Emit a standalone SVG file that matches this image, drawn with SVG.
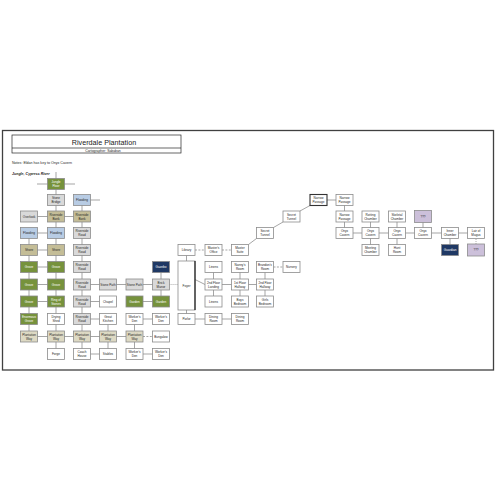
<svg xmlns="http://www.w3.org/2000/svg" width="500" height="500" viewBox="0 0 500 500">
  <defs>
    <style>
      .frame { fill: #ffffff; stroke: #404040; stroke-width: 1.3; }
      .hdr { fill: none; stroke: #262626; stroke-width: 0.7; }
      .title { font-family: "Liberation Sans", Arial, sans-serif; font-size: 7.2px; fill: #1a1a1a; text-anchor: middle; }
      .sub { font-family: "Liberation Sans", Arial, sans-serif; font-size: 3.4px; fill: #262626; text-anchor: middle; }
      .note { font-family: "Liberation Sans", Arial, sans-serif; font-size: 3.6px; fill: #262626; }
      .area { font-family: "Liberation Sans", Arial, sans-serif; font-size: 3.6px; font-weight: bold; font-style: italic; fill: #1a1a1a; }
      .node rect { stroke: #8c8c8c; stroke-width: 0.8; }
      .node text { font-family: "Liberation Sans", Arial, sans-serif; font-size: 3.1px; fill: #262626; text-anchor: middle; }
      .node.g text, .node.d text { fill: #ffffff; }
      .g rect { fill: #76923c; }
      .k rect { fill: #c4bd97; }
      .b rect { fill: #b8cce4; }
      .s rect { fill: #d9d9d9; }
      .p rect { fill: #ddd9c3; }
      .w rect { fill: #ffffff; }
      .d rect { fill: #1f3864; }
      .v rect { fill: #ccc0da; }
      .node.bold rect { stroke: #333333; stroke-width: 1.1; }
      .edges line, .edges polyline { stroke: #7f7f7f; stroke-width: 0.7; fill: none; }
      .edges .dash { stroke-dasharray: 2 1.4; }
      .edges .dot { stroke-dasharray: 0.9 1.1; }
    </style>
  </defs>

  <rect width="500" height="500" fill="#ffffff"/>
  <rect class="frame" x="2.5" y="130.5" width="491" height="239.5"/>

  <!-- header block -->
  <g id="header">
    <rect class="hdr" x="12" y="135" width="169" height="18"/>
    <line class="hdr" x1="12" y1="148" x2="181" y2="148"/>
    <text class="title" x="104" y="144.5">Riverdale Plantation</text>
    <text class="sub" x="103" y="151.8">Cartographer: Sababan</text>
    <text class="note" x="12" y="163.5">Notes: Eldan has key to Onyx Cavern</text>
    <text class="area" x="12" y="175">Jungle, Cypress River</text>
  </g>

  <!-- connectors -->
  <g class="edges">
    <!-- entry marker -->
    <line x1="37" y1="184" x2="75" y2="184"/>
    <line x1="56" y1="172" x2="56" y2="184"/>
    <!-- vertical runs -->
    <line x1="56" y1="184" x2="56" y2="354"/>
    <line x1="29" y1="233" x2="29" y2="336.5"/>
    <line x1="82" y1="200" x2="82" y2="354"/>
    <line x1="108" y1="319" x2="108" y2="354"/>
    <line x1="134.5" y1="319" x2="134.5" y2="354"/>
    <line x1="161" y1="267" x2="161" y2="301.5"/>
    <line x1="186.5" y1="250" x2="186.5" y2="319"/>
    <line x1="213.5" y1="267" x2="213.5" y2="301.5"/>
    <line x1="240" y1="267" x2="240" y2="301.5"/>
    <line x1="265" y1="267" x2="265" y2="301.5"/>
    <line x1="344.5" y1="200" x2="344.5" y2="233"/>
    <line x1="370.5" y1="216.5" x2="370.5" y2="250"/>
    <line x1="397" y1="216.5" x2="397" y2="250"/>
    <line x1="423" y1="216.5" x2="423" y2="233"/>
    <line x1="450" y1="233" x2="450" y2="250"/>
    <line class="dot" x1="476" y1="233" x2="476" y2="250"/>
    <!-- horizontal runs -->
    <line x1="82" y1="200" x2="100" y2="200"/>
    <line x1="29" y1="216.5" x2="82" y2="216.5"/>
    <line x1="29" y1="233" x2="56" y2="233"/>
    <line x1="29" y1="250" x2="56" y2="250"/>
    <line x1="29" y1="267" x2="56" y2="267"/>
    <line x1="29" y1="284.5" x2="56" y2="284.5"/>
    <line x1="29" y1="301.5" x2="56" y2="301.5"/>
    <line x1="29" y1="336.5" x2="134.5" y2="336.5"/>
    <line class="dash" x1="143" y1="336.5" x2="152.5" y2="336.5"/>
    <line x1="82" y1="284.5" x2="161" y2="284.5"/>
    <line class="dot" x1="169.5" y1="284.5" x2="178" y2="284.5"/>
    <line x1="82" y1="301.5" x2="108" y2="301.5"/>
    <line x1="134.5" y1="301.5" x2="161" y2="301.5"/>
    <line x1="82" y1="319" x2="108" y2="319"/>
    <line x1="134.5" y1="319" x2="161" y2="319"/>
    <line x1="82" y1="354" x2="108" y2="354"/>
    <line x1="134.5" y1="354" x2="161" y2="354"/>
    <line x1="186.5" y1="319" x2="240" y2="319"/>
    <line class="dash" x1="195" y1="250" x2="205" y2="250"/>
    <line class="dash" x1="222" y1="250" x2="231.5" y2="250"/>
    <polyline points="195,279.5 205,284.5"/>
    <line x1="213.5" y1="284.5" x2="265" y2="284.5"/>
    <line class="dash" x1="273.5" y1="267" x2="283" y2="267"/>
    <!-- secret passage climb -->
    <line x1="248.5" y1="244.5" x2="256.5" y2="238.5"/>
    <line x1="273.5" y1="227.5" x2="283" y2="222"/>
    <line x1="300" y1="211" x2="310" y2="205.5"/>
    <line x1="318.5" y1="200" x2="344.5" y2="200"/>
    <line x1="344.5" y1="233" x2="476" y2="233"/>
  </g>

  <!-- left grounds -->
  <g id="n-overlook" class="node s" transform="translate(29,216.5)"><rect x="-8.5" y="-5.5" width="17" height="11"/><text y="1.1">Overlook</text></g>
  <g id="n-flooding-1" class="node b" transform="translate(29,233)"><rect x="-8.5" y="-5.5" width="17" height="11"/><text y="1.1">Flooding</text></g>
  <g id="n-shore-1" class="node k" transform="translate(29,250)"><rect x="-8.5" y="-5.5" width="17" height="11"/><text y="1.1">Shore</text></g>
  <g id="n-grove-1" class="node g" transform="translate(29,267)"><rect x="-8.5" y="-5.5" width="17" height="11"/><text y="1.1">Grove</text></g>
  <g id="n-grove-2" class="node g" transform="translate(29,284.5)"><rect x="-8.5" y="-5.5" width="17" height="11"/><text y="1.1">Grove</text></g>
  <g id="n-grove-3" class="node g" transform="translate(29,301.5)"><rect x="-8.5" y="-5.5" width="17" height="11"/><text y="1.1">Grove</text></g>
  <g id="n-enormous-grove" class="node g" transform="translate(29,319)"><rect x="-8.5" y="-5.5" width="17" height="11"/><text y="-0.6"><tspan x="0">Enormous</tspan><tspan x="0" dy="3.6">Grove</tspan></text></g>
  <g id="n-plantation-way-1" class="node p" transform="translate(29,336.5)"><rect x="-8.5" y="-5.5" width="17" height="11"/><text y="-0.6"><tspan x="0">Plantation</tspan><tspan x="0" dy="3.6">Way</tspan></text></g>

  <g id="n-jungle-floor" class="node g" transform="translate(56,184)"><rect x="-8.5" y="-5.5" width="17" height="11"/><text y="-0.6"><tspan x="0">Jungle</tspan><tspan x="0" dy="3.6">Floor</tspan></text></g>
  <g id="n-stone-bridge" class="node s" transform="translate(56,200)"><rect x="-8.5" y="-5.5" width="17" height="11"/><text y="-0.6"><tspan x="0">Stone</tspan><tspan x="0" dy="3.6">Bridge</tspan></text></g>
  <g id="n-riverside-bank-1" class="node k" transform="translate(56,216.5)"><rect x="-8.5" y="-5.5" width="17" height="11"/><text y="-0.6"><tspan x="0">Riverside</tspan><tspan x="0" dy="3.6">Bank</tspan></text></g>
  <g id="n-flooding-2" class="node b" transform="translate(56,233)"><rect x="-8.5" y="-5.5" width="17" height="11"/><text y="1.1">Flooding</text></g>
  <g id="n-shore-2" class="node k" transform="translate(56,250)"><rect x="-8.5" y="-5.5" width="17" height="11"/><text y="1.1">Shore</text></g>
  <g id="n-grove-4" class="node g" transform="translate(56,267)"><rect x="-8.5" y="-5.5" width="17" height="11"/><text y="1.1">Grove</text></g>
  <g id="n-grove-5" class="node g" transform="translate(56,284.5)"><rect x="-8.5" y="-5.5" width="17" height="11"/><text y="1.1">Grove</text></g>
  <g id="n-ring-of-stones" class="node g" transform="translate(56,301.5)"><rect x="-8.5" y="-5.5" width="17" height="11"/><text y="-0.6"><tspan x="0">Ring of</tspan><tspan x="0" dy="3.6">Stones</tspan></text></g>
  <g id="n-drying-shed" class="node w" transform="translate(56,319)"><rect x="-8.5" y="-5.5" width="17" height="11"/><text y="-0.6"><tspan x="0">Drying</tspan><tspan x="0" dy="3.6">Shed</tspan></text></g>
  <g id="n-plantation-way-2" class="node p" transform="translate(56,336.5)"><rect x="-8.5" y="-5.5" width="17" height="11"/><text y="-0.6"><tspan x="0">Plantation</tspan><tspan x="0" dy="3.6">Way</tspan></text></g>
  <g id="n-forge" class="node w" transform="translate(56,354)"><rect x="-8.5" y="-5.5" width="17" height="11"/><text y="1.1">Forge</text></g>

  <g id="n-flooding-3" class="node b" transform="translate(82,200)"><rect x="-8.5" y="-5.5" width="17" height="11"/><text y="1.1">Flooding</text></g>
  <g id="n-riverside-bank-2" class="node k" transform="translate(82,216.5)"><rect x="-8.5" y="-5.5" width="17" height="11"/><text y="-0.6"><tspan x="0">Riverside</tspan><tspan x="0" dy="3.6">Bank</tspan></text></g>
  <g id="n-riverside-road-1" class="node s" transform="translate(82,233)"><rect x="-8.5" y="-5.5" width="17" height="11"/><text y="-0.6"><tspan x="0">Riverside</tspan><tspan x="0" dy="3.6">Road</tspan></text></g>
  <g id="n-riverside-road-2" class="node s" transform="translate(82,250)"><rect x="-8.5" y="-5.5" width="17" height="11"/><text y="-0.6"><tspan x="0">Riverside</tspan><tspan x="0" dy="3.6">Road</tspan></text></g>
  <g id="n-riverside-road-3" class="node s" transform="translate(82,267)"><rect x="-8.5" y="-5.5" width="17" height="11"/><text y="-0.6"><tspan x="0">Riverside</tspan><tspan x="0" dy="3.6">Road</tspan></text></g>
  <g id="n-riverside-road-4" class="node s" transform="translate(82,284.5)"><rect x="-8.5" y="-5.5" width="17" height="11"/><text y="-0.6"><tspan x="0">Riverside</tspan><tspan x="0" dy="3.6">Road</tspan></text></g>
  <g id="n-riverside-road-5" class="node s" transform="translate(82,301.5)"><rect x="-8.5" y="-5.5" width="17" height="11"/><text y="-0.6"><tspan x="0">Riverside</tspan><tspan x="0" dy="3.6">Road</tspan></text></g>
  <g id="n-riverside-road-6" class="node s" transform="translate(82,319)"><rect x="-8.5" y="-5.5" width="17" height="11"/><text y="-0.6"><tspan x="0">Riverside</tspan><tspan x="0" dy="3.6">Road</tspan></text></g>
  <g id="n-plantation-way-3" class="node p" transform="translate(82,336.5)"><rect x="-8.5" y="-5.5" width="17" height="11"/><text y="-0.6"><tspan x="0">Plantation</tspan><tspan x="0" dy="3.6">Way</tspan></text></g>
  <g id="n-coach-house" class="node w" transform="translate(82,354)"><rect x="-8.5" y="-5.5" width="17" height="11"/><text y="-0.6"><tspan x="0">Coach</tspan><tspan x="0" dy="3.6">House</tspan></text></g>

  <g id="n-stone-path-1" class="node s" transform="translate(108,284.5)"><rect x="-8.5" y="-5.5" width="17" height="11"/><text y="1.1">Stone Path</text></g>
  <g id="n-chapel" class="node w" transform="translate(108,301.5)"><rect x="-8.5" y="-5.5" width="17" height="11"/><text y="1.1">Chapel</text></g>
  <g id="n-great-kitchen" class="node w" transform="translate(108,319)"><rect x="-8.5" y="-5.5" width="17" height="11"/><text y="-0.6"><tspan x="0">Great</tspan><tspan x="0" dy="3.6">Kitchen</tspan></text></g>
  <g id="n-plantation-way-4" class="node p" transform="translate(108,336.5)"><rect x="-8.5" y="-5.5" width="17" height="11"/><text y="-0.6"><tspan x="0">Plantation</tspan><tspan x="0" dy="3.6">Way</tspan></text></g>
  <g id="n-stables" class="node w" transform="translate(108,354)"><rect x="-8.5" y="-5.5" width="17" height="11"/><text y="1.1">Stables</text></g>

  <g id="n-stone-path-2" class="node s" transform="translate(134.5,284.5)"><rect x="-8.5" y="-5.5" width="17" height="11"/><text y="1.1">Stone Path</text></g>
  <g id="n-garden-1" class="node g" transform="translate(134.5,301.5)"><rect x="-8.5" y="-5.5" width="17" height="11"/><text y="1.1">Garden</text></g>
  <g id="n-workers-den-1" class="node w" transform="translate(134.5,319)"><rect x="-8.5" y="-5.5" width="17" height="11"/><text y="-0.6"><tspan x="0">Worker's</tspan><tspan x="0" dy="3.6">Den</tspan></text></g>
  <g id="n-plantation-way-5" class="node p" transform="translate(134.5,336.5)"><rect x="-8.5" y="-5.5" width="17" height="11"/><text y="-0.6"><tspan x="0">Plantation</tspan><tspan x="0" dy="3.6">Way</tspan></text></g>
  <g id="n-workers-den-2" class="node w" transform="translate(134.5,354)"><rect x="-8.5" y="-5.5" width="17" height="11"/><text y="-0.6"><tspan x="0">Worker's</tspan><tspan x="0" dy="3.6">Den</tspan></text></g>

  <g id="n-gazebo" class="node d" transform="translate(161,267)"><rect x="-8.5" y="-5.5" width="17" height="11"/><text y="1.1">Gazebo</text></g>
  <g id="n-brick-manor" class="node s" transform="translate(161,284.5)"><rect x="-8.5" y="-5.5" width="17" height="11"/><text y="-0.6"><tspan x="0">Brick</tspan><tspan x="0" dy="3.6">Manor</tspan></text></g>
  <g id="n-garden-2" class="node g" transform="translate(161,301.5)"><rect x="-8.5" y="-5.5" width="17" height="11"/><text y="1.1">Garden</text></g>
  <g id="n-workers-den-3" class="node w" transform="translate(161,319)"><rect x="-8.5" y="-5.5" width="17" height="11"/><text y="-0.6"><tspan x="0">Worker's</tspan><tspan x="0" dy="3.6">Den</tspan></text></g>
  <g id="n-bungalow" class="node w" transform="translate(161,336.5)"><rect x="-8.5" y="-5.5" width="17" height="11"/><text y="1.1">Bungalow</text></g>
  <g id="n-workers-den-4" class="node w" transform="translate(161,354)"><rect x="-8.5" y="-5.5" width="17" height="11"/><text y="-0.6"><tspan x="0">Worker's</tspan><tspan x="0" dy="3.6">Den</tspan></text></g>

  <!-- manor house -->
  <g id="n-library" class="node w" transform="translate(186.5,250)"><rect x="-8.5" y="-5.5" width="17" height="11"/><text y="1.1">Library</text></g>
  <g id="n-foyer" class="node w" transform="translate(186.5,285.5)"><rect x="-8.5" y="-24.5" width="17" height="49"/><line x1="8.5" y1="-24.5" x2="8.5" y2="24.5" stroke="#1a1a1a" stroke-width="1.2"/><text y="1.1">Foyer</text></g>
  <g id="n-parlor" class="node w" transform="translate(186.5,319)"><rect x="-8.5" y="-5.5" width="17" height="11"/><text y="1.1">Parlor</text></g>

  <g id="n-masters-office" class="node w" transform="translate(213.5,250)"><rect x="-8.5" y="-5.5" width="17" height="11"/><text y="-0.6"><tspan x="0">Master's</tspan><tspan x="0" dy="3.6">Office</tspan></text></g>
  <g id="n-linens-1" class="node w" transform="translate(213.5,267)"><rect x="-8.5" y="-5.5" width="17" height="11"/><text y="1.1">Linens</text></g>
  <g id="n-landing" class="node w" transform="translate(213.5,284.5)"><rect x="-8.5" y="-5.5" width="17" height="11"/><text y="-0.6"><tspan x="0">2nd Floor</tspan><tspan x="0" dy="3.6">Landing</tspan></text></g>
  <g id="n-linens-2" class="node w" transform="translate(213.5,301.5)"><rect x="-8.5" y="-5.5" width="17" height="11"/><text y="1.1">Linens</text></g>
  <g id="n-dining-room-1" class="node w" transform="translate(213.5,319)"><rect x="-8.5" y="-5.5" width="17" height="11"/><text y="-0.6"><tspan x="0">Dining</tspan><tspan x="0" dy="3.6">Room</tspan></text></g>

  <g id="n-master-suite" class="node w" transform="translate(240,250)"><rect x="-8.5" y="-5.5" width="17" height="11"/><text y="-0.6"><tspan x="0">Master</tspan><tspan x="0" dy="3.6">Suite</tspan></text></g>
  <g id="n-nannys-room" class="node w" transform="translate(240,267)"><rect x="-8.5" y="-5.5" width="17" height="11"/><text y="-0.6"><tspan x="0">Nanny's</tspan><tspan x="0" dy="3.6">Room</tspan></text></g>
  <g id="n-hallway-1" class="node w" transform="translate(240,284.5)"><rect x="-8.5" y="-5.5" width="17" height="11"/><text y="-0.6"><tspan x="0">1st Floor</tspan><tspan x="0" dy="3.6">Hallway</tspan></text></g>
  <g id="n-boys-bedroom" class="node w" transform="translate(240,301.5)"><rect x="-8.5" y="-5.5" width="17" height="11"/><text y="-0.6"><tspan x="0">Boys</tspan><tspan x="0" dy="3.6">Bedroom</tspan></text></g>
  <g id="n-dining-room-2" class="node w" transform="translate(240,319)"><rect x="-8.5" y="-5.5" width="17" height="11"/><text y="-0.6"><tspan x="0">Dining</tspan><tspan x="0" dy="3.6">Room</tspan></text></g>

  <g id="n-secret-tunnel-1" class="node w" transform="translate(265,233)"><rect x="-8.5" y="-5.5" width="17" height="11"/><text y="-0.6"><tspan x="0">Secret</tspan><tspan x="0" dy="3.6">Tunnel</tspan></text></g>
  <g id="n-brandons-room" class="node w" transform="translate(265,267)"><rect x="-8.5" y="-5.5" width="17" height="11"/><text y="-0.6"><tspan x="0">Brandon's</tspan><tspan x="0" dy="3.6">Room</tspan></text></g>
  <g id="n-hallway-2" class="node w" transform="translate(265,284.5)"><rect x="-8.5" y="-5.5" width="17" height="11"/><text y="-0.6"><tspan x="0">2nd Floor</tspan><tspan x="0" dy="3.6">Hallway</tspan></text></g>
  <g id="n-girls-bedroom" class="node w" transform="translate(265,301.5)"><rect x="-8.5" y="-5.5" width="17" height="11"/><text y="-0.6"><tspan x="0">Girls</tspan><tspan x="0" dy="3.6">Bedroom</tspan></text></g>

  <g id="n-secret-tunnel-2" class="node w" transform="translate(291.5,216.5)"><rect x="-8.5" y="-5.5" width="17" height="11"/><text y="-0.6"><tspan x="0">Secret</tspan><tspan x="0" dy="3.6">Tunnel</tspan></text></g>
  <g id="n-nursery" class="node w" transform="translate(291.5,267)"><rect x="-8.5" y="-5.5" width="17" height="11"/><text y="1.1">Nursery</text></g>

  <!-- caverns -->
  <g id="n-narrow-passage-1" class="node w bold" transform="translate(318.5,200)"><rect x="-8.5" y="-5.5" width="17" height="11"/><text y="-0.6"><tspan x="0">Narrow</tspan><tspan x="0" dy="3.6">Passage</tspan></text></g>
  <g id="n-narrow-passage-2" class="node w" transform="translate(344.5,200)"><rect x="-8.5" y="-5.5" width="17" height="11"/><text y="-0.6"><tspan x="0">Narrow</tspan><tspan x="0" dy="3.6">Passage</tspan></text></g>
  <g id="n-narrow-passage-3" class="node w" transform="translate(344.5,216.5)"><rect x="-8.5" y="-5.5" width="17" height="11"/><text y="-0.6"><tspan x="0">Narrow</tspan><tspan x="0" dy="3.6">Passage</tspan></text></g>
  <g id="n-onyx-cavern-1" class="node w" transform="translate(344.5,233)"><rect x="-8.5" y="-5.5" width="17" height="11"/><text y="-0.6"><tspan x="0">Onyx</tspan><tspan x="0" dy="3.6">Cavern</tspan></text></g>

  <g id="n-rotting-chamber" class="node w" transform="translate(370.5,216.5)"><rect x="-8.5" y="-5.5" width="17" height="11"/><text y="-0.6"><tspan x="0">Rotting</tspan><tspan x="0" dy="3.6">Chamber</tspan></text></g>
  <g id="n-onyx-cavern-2" class="node w" transform="translate(370.5,233)"><rect x="-8.5" y="-5.5" width="17" height="11"/><text y="-0.6"><tspan x="0">Onyx</tspan><tspan x="0" dy="3.6">Cavern</tspan></text></g>
  <g id="n-meeting-chamber" class="node w" transform="translate(370.5,250)"><rect x="-8.5" y="-5.5" width="17" height="11"/><text y="-0.6"><tspan x="0">Meeting</tspan><tspan x="0" dy="3.6">Chamber</tspan></text></g>

  <g id="n-skeletal-chamber" class="node w" transform="translate(397,216.5)"><rect x="-8.5" y="-5.5" width="17" height="11"/><text y="-0.6"><tspan x="0">Skeletal</tspan><tspan x="0" dy="3.6">Chamber</tspan></text></g>
  <g id="n-onyx-cavern-3" class="node w" transform="translate(397,233)"><rect x="-8.5" y="-5.5" width="17" height="11"/><text y="-0.6"><tspan x="0">Onyx</tspan><tspan x="0" dy="3.6">Cavern</tspan></text></g>
  <g id="n-hunt-room" class="node w" transform="translate(397,250)"><rect x="-8.5" y="-5.5" width="17" height="11"/><text y="-0.6"><tspan x="0">Hunt</tspan><tspan x="0" dy="3.6">Room</tspan></text></g>

  <g id="n-unknown-1" class="node v" transform="translate(423,216.5)"><rect x="-8.5" y="-6" width="17" height="12"/><text y="1.1">???</text></g>
  <g id="n-onyx-cavern-4" class="node w" transform="translate(423,233)"><rect x="-8.5" y="-5.5" width="17" height="11"/><text y="-0.6"><tspan x="0">Onyx</tspan><tspan x="0" dy="3.6">Cavern</tspan></text></g>

  <g id="n-inner-chamber" class="node w" transform="translate(450,233)"><rect x="-8.5" y="-5.5" width="17" height="11"/><text y="-0.6"><tspan x="0">Inner</tspan><tspan x="0" dy="3.6">Chamber</tspan></text></g>
  <g id="n-guardian" class="node d" transform="translate(450,250)"><rect x="-8.5" y="-5.5" width="17" height="11"/><text y="1.1">Guardian</text></g>

  <g id="n-lair" class="node w" transform="translate(476,233)"><rect x="-8.5" y="-5.5" width="17" height="11"/><text y="-0.6"><tspan x="0">Lair of</tspan><tspan x="0" dy="3.6">Magus</tspan></text></g>
  <g id="n-unknown-2" class="node v" transform="translate(476,250)"><rect x="-8.5" y="-6" width="17" height="12"/><text y="1.1">???</text></g>
</svg>
